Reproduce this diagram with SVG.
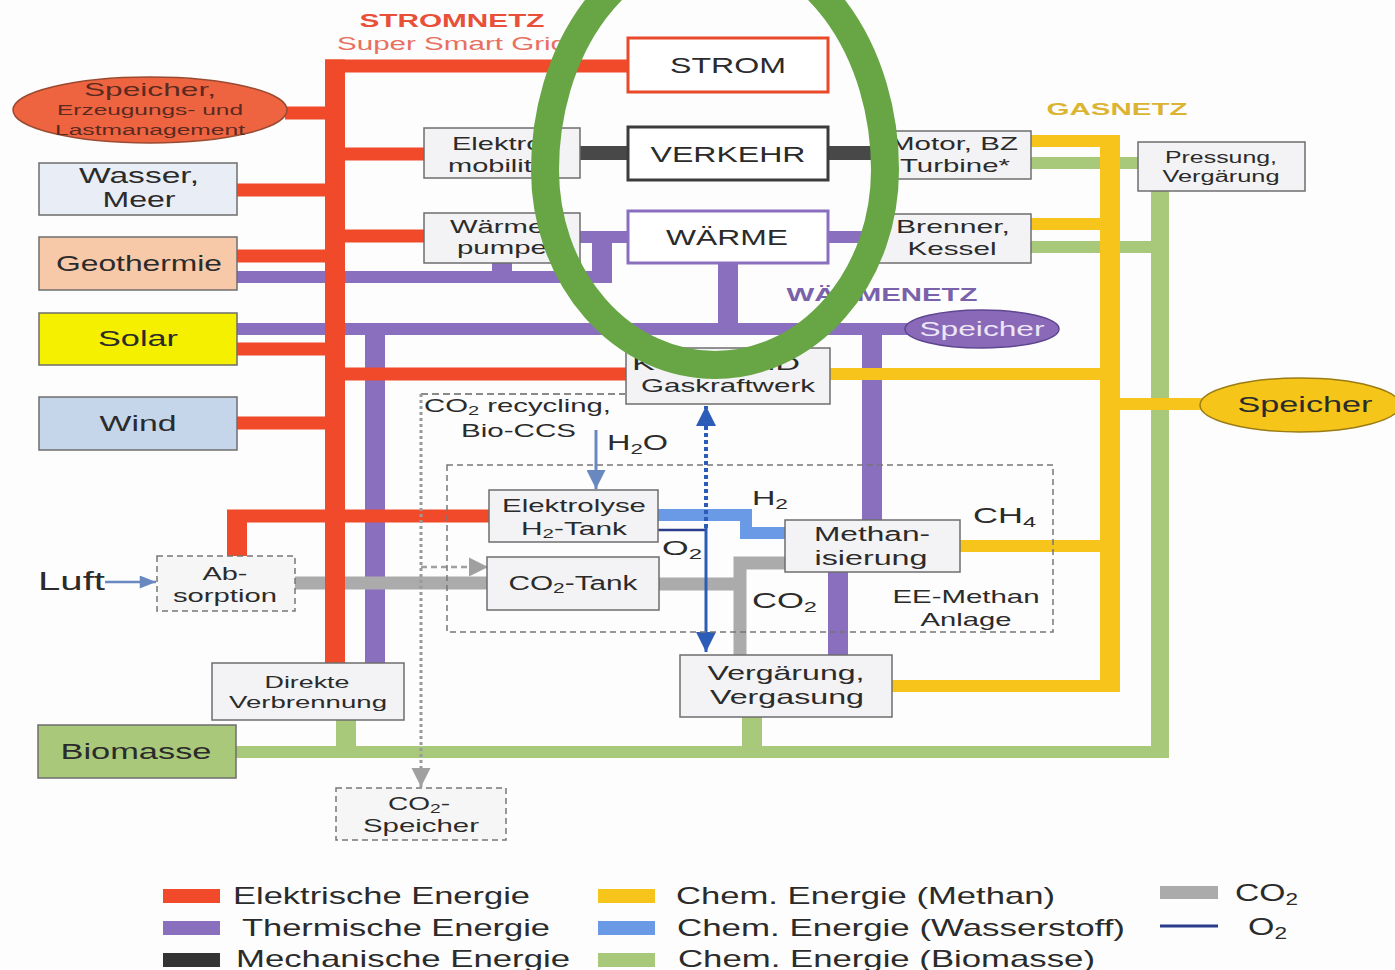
<svg xmlns="http://www.w3.org/2000/svg" width="1395" height="970" viewBox="0 0 1395 970">
<defs>
<style>
text{font-family:"Liberation Sans",Arial,sans-serif;fill:#2b2b2b}
.c{text-anchor:middle}
.b{font-weight:bold}
.box{fill:#f3f3f5;stroke:#6e6e6e;stroke-width:1.5}
.dbox{fill:#f6f6f6;stroke:#777;stroke-width:1.5;stroke-dasharray:6 4}
.red{stroke:#f04a2a;fill:none;stroke-width:13}
.pur{stroke:#8b6fbf;fill:none;stroke-width:12}
.yel{stroke:#f7c41c;fill:none;stroke-width:12}
.grn{stroke:#a9c97a;fill:none;stroke-width:12}
.gry{stroke:#ababab;fill:none;stroke-width:13}
.mech{stroke:#484848;fill:none;stroke-width:14}
.h2{stroke:#6a9ae6;fill:none;stroke-width:12}
.fr{fill:#f04a2a}.fp{fill:#8b6fbf}.fy{fill:#f7c41c}.fg{fill:#a9c97a}
</style>
<marker id="ad" viewBox="0 0 20 20" refX="20" refY="10" markerWidth="20" markerHeight="20" markerUnits="userSpaceOnUse" orient="auto"><path d="M0,0 L20,10 L0,20 z" fill="#2a5cb8"/></marker>
<marker id="al" viewBox="0 0 20 20" refX="20" refY="10" markerWidth="19" markerHeight="19" markerUnits="userSpaceOnUse" orient="auto"><path d="M0,0 L20,10 L0,20 z" fill="#6a88c0"/></marker>
<marker id="al2" viewBox="0 0 20 16" refX="20" refY="8" markerWidth="17" markerHeight="13" markerUnits="userSpaceOnUse" orient="auto"><path d="M0,0 L20,8 L0,16 z" fill="#6a88c0"/></marker>
<marker id="ag" viewBox="0 0 20 20" refX="20" refY="10" markerWidth="19" markerHeight="20" markerUnits="userSpaceOnUse" orient="auto"><path d="M0,0 L20,10 L0,20 z" fill="#a0a0a0"/></marker>
</defs>
<rect width="1395" height="970" fill="#fdfdfd"/>

<g id="connectors">
  <!-- thermal -->
  <line class="pur" x1="237" y1="277" x2="612" y2="277"/>
  <rect class="fp" x="592" y="231" width="20" height="52"/>
  <line class="pur" x1="580" y1="237" x2="628" y2="237"/>
  <rect class="fp" x="492" y="263" width="20" height="14"/>
  <line class="pur" x1="237" y1="329" x2="910" y2="329"/>
  <rect class="fp" x="365" y="323" width="20" height="340"/>
  <rect class="fp" x="718" y="263" width="20" height="66"/>
  <line class="pur" x1="828" y1="237" x2="877" y2="237"/>
  <rect class="fp" x="862" y="329" width="20" height="191"/>
  <rect class="fp" x="828" y="572" width="20" height="83"/>
  <!-- CO2 -->
  <line class="gry" x1="295" y1="583" x2="489" y2="583"/>
  <path class="gry" d="M659,584 H746"/>
  <path class="gry" d="M786,563 H740 V655"/>
  <!-- biomass -->
  <line class="grn" x1="236" y1="752" x2="1169" y2="752"/>
  <rect class="fg" x="1151" y="191" width="18" height="567"/>
  <line class="grn" stroke-width="11" x1="1031" y1="163" x2="1138" y2="163"/>
  <line class="grn" stroke-width="11" x1="1031" y1="247" x2="1160" y2="247"/>
  <rect class="fg" x="336" y="720" width="20" height="32"/>
  <rect class="fg" x="742" y="717" width="20" height="35"/>
  <!-- methane -->
  <rect class="fy" x="1100" y="135" width="20" height="557"/>
  <line class="yel" x1="1031" y1="141" x2="1120" y2="141"/>
  <line class="yel" x1="1031" y1="224" x2="1110" y2="224"/>
  <line class="yel" x1="830" y1="374" x2="1110" y2="374"/>
  <line class="yel" x1="1110" y1="404" x2="1205" y2="404"/>
  <line class="yel" x1="960" y1="546" x2="1110" y2="546"/>
  <line class="yel" x1="892" y1="686" x2="1120" y2="686"/>
  <!-- electric -->
  <rect class="fr" x="325" y="59.5" width="20" height="603.5"/>
  <line class="red" x1="325" y1="66" x2="628" y2="66"/>
  <line class="red" x1="285" y1="113" x2="335" y2="113"/>
  <line class="red" x1="345" y1="154" x2="424" y2="154"/>
  <line class="red" x1="237" y1="190" x2="335" y2="190"/>
  <line class="red" x1="345" y1="236" x2="424" y2="236"/>
  <line class="red" x1="237" y1="256" x2="335" y2="256"/>
  <line class="red" x1="237" y1="349" x2="335" y2="349"/>
  <line class="red" x1="335" y1="374" x2="626" y2="374"/>
  <line class="red" x1="237" y1="423" x2="335" y2="423"/>
  <line class="red" x1="227" y1="516" x2="489" y2="516"/>
  <rect class="fr" x="227" y="510" width="20" height="46"/>
  <!-- mechanical -->
  <line class="mech" x1="580" y1="153" x2="628" y2="153"/>
  <line class="mech" x1="828" y1="153" x2="877" y2="153"/>
  <!-- hydrogen / oxygen -->
  <path class="h2" d="M658,515 H746 V533 H785"/>
  <line x1="658" y1="530" x2="706" y2="530" stroke="#2a3c8c" stroke-width="2.5"/>
  <path d="M706,528 V406" stroke="#2a5cb8" stroke-width="4" stroke-dasharray="4 3" fill="none" marker-end="url(#ad)"/>
  <path d="M706,528 V652" stroke="#2a5cb8" stroke-width="3" fill="none" marker-end="url(#ad)"/>
  <path d="M596,430 V489" stroke="#6a88c0" stroke-width="3" fill="none" marker-end="url(#al)"/>
  <path d="M105,582 H156" stroke="#6a88c0" stroke-width="2.5" fill="none" marker-end="url(#al2)"/>
  <!-- CO2 recycling -->
  <line x1="421" y1="394" x2="625" y2="394" stroke="#8a8a8a" stroke-width="2" stroke-dasharray="7 4"/>
  <path d="M421,394 V787" stroke="#9a9a9a" stroke-width="3" stroke-dasharray="3 3" fill="none" marker-end="url(#ag)"/>
  <path d="M421,567 H488" stroke="#a0a0a0" stroke-width="2.5" stroke-dasharray="6 4" fill="none" marker-end="url(#ag)"/>
  <rect x="447" y="465" width="606" height="167" fill="none" stroke="#777" stroke-width="1.5" stroke-dasharray="6 4"/>
</g>

<g id="speicher-strom">
  <ellipse cx="150" cy="110" rx="137" ry="33" fill="#ef6440" stroke="#9a4a30" stroke-width="1.5"/>
  <text class="c" x="150" y="96" font-size="19" textLength="132" lengthAdjust="spacingAndGlyphs" style="fill:#5b2a20">Speicher,</text>
  <text class="c" x="150" y="115" font-size="14" textLength="186" lengthAdjust="spacingAndGlyphs" style="fill:#5b2a20">Erzeugungs- und</text>
  <text class="c" x="150" y="135" font-size="14" textLength="190" lengthAdjust="spacingAndGlyphs" style="fill:#5b2a20">Lastmanagement</text>
</g>
<g id="wasser">
  <rect class="box" x="39" y="163" width="198" height="52" style="fill:#e9edf5"/>
  <text class="c" x="139" y="183" font-size="22" textLength="120" lengthAdjust="spacingAndGlyphs">Wasser,</text>
  <text class="c" x="139" y="207" font-size="22" textLength="73" lengthAdjust="spacingAndGlyphs">Meer</text>
</g>
<g id="geothermie">
  <rect class="box" x="39" y="237" width="198" height="53" style="fill:#f8c9a8"/>
  <text class="c" x="139" y="271" font-size="22" textLength="166" lengthAdjust="spacingAndGlyphs">Geothermie</text>
</g>
<g id="solar">
  <rect class="box" x="39" y="313" width="198" height="52" style="fill:#f4f000"/>
  <text class="c" x="138" y="346" font-size="22" textLength="80" lengthAdjust="spacingAndGlyphs">Solar</text>
</g>
<g id="wind">
  <rect class="box" x="39" y="397" width="198" height="53" style="fill:#c5d5ea"/>
  <text class="c" x="138" y="431" font-size="22" textLength="77" lengthAdjust="spacingAndGlyphs">Wind</text>
</g>
<g id="biomasse">
  <rect class="box" x="38" y="725" width="198" height="53" style="fill:#a9c87a"/>
  <text class="c" x="136" y="759" font-size="22" textLength="151" lengthAdjust="spacingAndGlyphs">Biomasse</text>
</g>

<g id="stromnetz-label">
  <text class="c b" x="452" y="27" font-size="18" textLength="185" lengthAdjust="spacingAndGlyphs" style="fill:#e8503a">STROMNETZ</text>
  <text x="337" y="50" font-size="18" textLength="230" lengthAdjust="spacingAndGlyphs" style="fill:#e87060">Super Smart Grid</text>
</g>
<g id="strom">
  <rect x="628" y="38" width="200" height="54" fill="#fff" stroke="#ea4a2a" stroke-width="3"/>
  <text class="c" x="728" y="73" font-size="22" textLength="116" lengthAdjust="spacingAndGlyphs">STROM</text>
</g>
<g id="verkehr">
  <rect x="628" y="127" width="200" height="53" fill="#fff" stroke="#3c3c3c" stroke-width="3"/>
  <text class="c" x="728" y="162" font-size="22" textLength="155" lengthAdjust="spacingAndGlyphs">VERKEHR</text>
</g>
<g id="waerme">
  <rect x="628" y="211" width="200" height="52" fill="#fff" stroke="#8b6fbf" stroke-width="3"/>
  <text class="c" x="727" y="245" font-size="22" textLength="122" lengthAdjust="spacingAndGlyphs">WÄRME</text>
</g>
<g id="elektromobilitaet">
  <rect class="box" x="424" y="128" width="156" height="50"/>
  <text class="c" x="502" y="150" font-size="19" textLength="100" lengthAdjust="spacingAndGlyphs">Elektro-</text>
  <text class="c" x="502" y="172" font-size="19" textLength="108" lengthAdjust="spacingAndGlyphs">mobilität</text>
</g>
<g id="waermepumpe">
  <rect class="box" x="424" y="213" width="156" height="50"/>
  <text class="c" x="502" y="233" font-size="19" textLength="104" lengthAdjust="spacingAndGlyphs">Wärme-</text>
  <text class="c" x="502" y="254" font-size="19" textLength="90" lengthAdjust="spacingAndGlyphs">pumpe</text>
</g>
<g id="motor">
  <rect class="box" x="877" y="131" width="154" height="48"/>
  <text class="c" x="954" y="150" font-size="19" textLength="128" lengthAdjust="spacingAndGlyphs">Motor, BZ</text>
  <text class="c" x="955" y="172" font-size="19" textLength="110" lengthAdjust="spacingAndGlyphs">Turbine*</text>
</g>
<g id="brenner">
  <rect class="box" x="877" y="214" width="154" height="49"/>
  <text class="c" x="953" y="233" font-size="19" textLength="114" lengthAdjust="spacingAndGlyphs">Brenner,</text>
  <text class="c" x="952" y="255" font-size="19" textLength="89" lengthAdjust="spacingAndGlyphs">Kessel</text>
</g>
<g id="pressung">
  <rect class="box" x="1138" y="142" width="167" height="49"/>
  <text class="c" x="1221" y="163" font-size="16" textLength="112" lengthAdjust="spacingAndGlyphs">Pressung,</text>
  <text class="c" x="1221" y="182" font-size="16" textLength="117" lengthAdjust="spacingAndGlyphs">Vergärung</text>
</g>
<g id="gasnetz-label">
  <text class="c b" x="1117" y="115" font-size="17" textLength="141" lengthAdjust="spacingAndGlyphs" style="fill:#dbb433">GASNETZ</text>
</g>
<g id="waermenetz-label">
  <text class="c b" x="882" y="301" font-size="18" textLength="191" lengthAdjust="spacingAndGlyphs" style="fill:#7a62aa">WÄRMENETZ</text>
</g>
<g id="speicher-waerme">
  <ellipse cx="982" cy="329" rx="77" ry="19" fill="#8a6ab8" stroke="#5e4690" stroke-width="1.5"/>
  <text class="c" x="982" y="336" font-size="20" textLength="125" lengthAdjust="spacingAndGlyphs" style="fill:#ede6f7">Speicher</text>
</g>
<g id="speicher-gas">
  <ellipse cx="1300" cy="405" rx="100" ry="27" fill="#f6c51a" stroke="#9b7c14" stroke-width="1.5"/>
  <text class="c" x="1305" y="412" font-size="22" textLength="135" lengthAdjust="spacingAndGlyphs">Speicher</text>
</g>
<g id="gaskraftwerk">
  <rect class="box" x="626" y="348" width="204" height="56"/>
  <text class="c" x="716" y="370" font-size="19" textLength="168" lengthAdjust="spacingAndGlyphs">KWK, GuD</text>
  <text class="c" x="728" y="392" font-size="19" textLength="174" lengthAdjust="spacingAndGlyphs">Gaskraftwerk</text>
</g>
<g id="co2-recycling-label">
  <text x="424" y="412" font-size="19" textLength="187" lengthAdjust="spacingAndGlyphs">CO<tspan font-size="13" dy="3">2</tspan><tspan dy="-3"> recycling,</tspan></text>
  <text x="461" y="437" font-size="19" textLength="115" lengthAdjust="spacingAndGlyphs">Bio-CCS</text>
  <text x="607" y="450" font-size="22" textLength="61" lengthAdjust="spacingAndGlyphs">H<tspan font-size="15" dy="4">2</tspan><tspan dy="-4">O</tspan></text>
</g>
<g id="elektrolyse">
  <rect class="box" x="489" y="490" width="169" height="52"/>
  <text class="c" x="574" y="512" font-size="19" textLength="144" lengthAdjust="spacingAndGlyphs">Elektrolyse</text>
  <text class="c" x="574" y="535" font-size="19" textLength="106" lengthAdjust="spacingAndGlyphs">H<tspan font-size="13" dy="3">2</tspan><tspan dy="-3">-Tank</tspan></text>
</g>
<g id="co2-tank">
  <rect class="box" x="487" y="557" width="172" height="53"/>
  <text class="c" x="573" y="590" font-size="20" textLength="129" lengthAdjust="spacingAndGlyphs">CO<tspan font-size="14" dy="3">2</tspan><tspan dy="-3">-Tank</tspan></text>
</g>
<g id="methanisierung">
  <rect class="box" x="785" y="520" width="175" height="52"/>
  <text class="c" x="872" y="541" font-size="20" textLength="116" lengthAdjust="spacingAndGlyphs">Methan-</text>
  <text class="c" x="871" y="565" font-size="20" textLength="113" lengthAdjust="spacingAndGlyphs">isierung</text>
</g>
<g id="ee-methan-labels">
  <text x="752" y="505" font-size="20" textLength="36" lengthAdjust="spacingAndGlyphs">H<tspan font-size="14" dy="4">2</tspan></text>
  <text x="662" y="555" font-size="20" textLength="40" lengthAdjust="spacingAndGlyphs">O<tspan font-size="14" dy="4">2</tspan></text>
  <text x="973" y="523" font-size="22" textLength="63" lengthAdjust="spacingAndGlyphs">CH<tspan font-size="15" dy="4">4</tspan></text>
  <text x="752" y="608" font-size="22" textLength="65" lengthAdjust="spacingAndGlyphs">CO<tspan font-size="15" dy="4">2</tspan></text>
  <text class="c" x="966" y="603" font-size="19" textLength="147" lengthAdjust="spacingAndGlyphs">EE-Methan</text>
  <text class="c" x="966" y="626" font-size="19" textLength="91" lengthAdjust="spacingAndGlyphs">Anlage</text>
</g>
<g id="absorption">
  <rect class="dbox" x="157" y="556" width="138" height="55"/>
  <text class="c" x="225" y="580" font-size="19" textLength="45" lengthAdjust="spacingAndGlyphs">Ab-</text>
  <text class="c" x="225" y="602" font-size="19" textLength="104" lengthAdjust="spacingAndGlyphs">sorption</text>
</g>
<g id="luft">
  <text x="38" y="590" font-size="25" textLength="67" lengthAdjust="spacingAndGlyphs">Luft</text>
</g>
<g id="vergaerung">
  <rect class="box" x="680" y="655" width="212" height="62"/>
  <text class="c" x="786" y="680" font-size="21" textLength="157" lengthAdjust="spacingAndGlyphs">Vergärung,</text>
  <text class="c" x="787" y="704" font-size="21" textLength="154" lengthAdjust="spacingAndGlyphs">Vergasung</text>
</g>
<g id="direkte-verbrennung">
  <rect class="box" x="212" y="663" width="192" height="57"/>
  <text class="c" x="307" y="688" font-size="17" textLength="85" lengthAdjust="spacingAndGlyphs">Direkte</text>
  <text class="c" x="308" y="708" font-size="17" textLength="158" lengthAdjust="spacingAndGlyphs">Verbrennung</text>
</g>
<g id="co2-speicher">
  <rect class="dbox" x="336" y="788" width="170" height="52"/>
  <text class="c" x="419" y="810" font-size="19" textLength="62" lengthAdjust="spacingAndGlyphs">CO<tspan font-size="13" dy="3">2</tspan><tspan dy="-3">-</tspan></text>
  <text class="c" x="421" y="832" font-size="19" textLength="116" lengthAdjust="spacingAndGlyphs">Speicher</text>
</g>

<g id="highlight-ring">
  <path d="M545,170 A170,226 0 0 1 885,170 A170,195 0 0 1 545,170 Z" fill="none" stroke="#67a545" stroke-width="28"/>
</g>

<g id="legend">
  <rect class="fr" x="163" y="889" width="57" height="14"/>
  <text x="233" y="904" font-size="24" textLength="297" lengthAdjust="spacingAndGlyphs">Elektrische Energie</text>
  <rect class="fp" x="163" y="921" width="57" height="14"/>
  <text x="242" y="936" font-size="24" textLength="308" lengthAdjust="spacingAndGlyphs">Thermische Energie</text>
  <rect x="163" y="953" width="57" height="14" fill="#333"/>
  <text x="236" y="967" font-size="24" textLength="334" lengthAdjust="spacingAndGlyphs">Mechanische Energie</text>
  <rect class="fy" x="598" y="889" width="57" height="14"/>
  <text x="676" y="904" font-size="24" textLength="379" lengthAdjust="spacingAndGlyphs">Chem. Energie (Methan)</text>
  <rect x="598" y="921" width="57" height="14" fill="#6a9ae6"/>
  <text x="677" y="936" font-size="24" textLength="448" lengthAdjust="spacingAndGlyphs">Chem. Energie (Wasserstoff)</text>
  <rect class="fg" x="598" y="953" width="57" height="14"/>
  <text x="678" y="967" font-size="24" textLength="417" lengthAdjust="spacingAndGlyphs">Chem. Energie (Biomasse)</text>
  <rect x="1160" y="886" width="58" height="13" fill="#ababab"/>
  <text x="1235" y="901" font-size="24" textLength="63" lengthAdjust="spacingAndGlyphs">CO<tspan font-size="16" dy="4">2</tspan></text>
  <line x1="1160" y1="926" x2="1218" y2="926" stroke="#2a3c8c" stroke-width="3"/>
  <text x="1248" y="935" font-size="24" textLength="39" lengthAdjust="spacingAndGlyphs">O<tspan font-size="16" dy="4">2</tspan></text>
</g>
</svg>
